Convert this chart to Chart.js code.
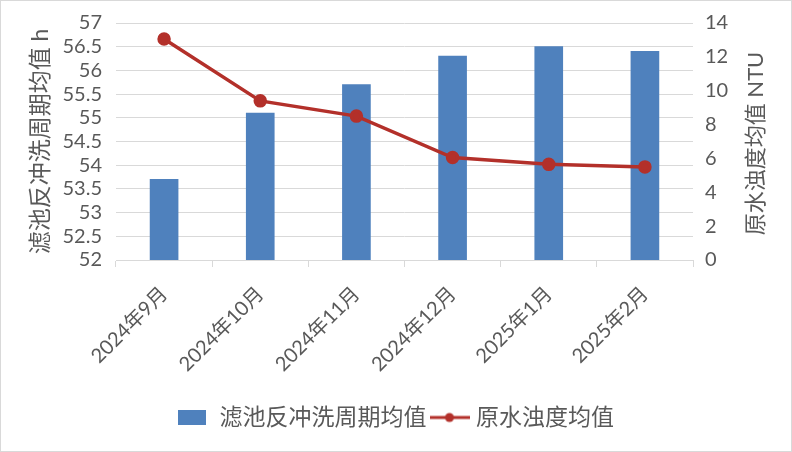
<!DOCTYPE html>
<html lang="zh-cn">
<head>
<meta charset="UTF-8" />
<title>滤池反冲洗周期与原水浊度</title>
<script src="https://cdn.jsdelivr.net/npm/chart.js"></script>
<style>
  body { margin: 0; background: #fff; }
  .caixa { width: 792px; height: 452px; box-sizing: border-box; border: 1px solid #d9d9d9; }
  canvas { display: block; }
</style>
</head>
<body>
<div class="caixa">
  <canvas id="myCanvas" width="790" height="450"></canvas>
</div>
<script>
  const meses = ["2024年9月", "2024年10月", "2024年11月", "2024年12月", "2025年1月", "2025年2月"];
  const cicloMedio = [53.7, 55.1, 55.7, 56.3, 56.5, 56.4];
  const turbidezMedia = [13.05, 9.4, 8.5, 6.05, 5.65, 5.5];
  const ticksEsq = [52, 52.5, 53, 53.5, 54, 54.5, 55, 55.5, 56, 56.5, 57];
  const ticksDir = [0, 2, 4, 6, 8, 10, 12, 14];

  const fonte = 'Lato, "Noto Sans CJK SC", sans-serif';
  const cinza = "#595959";
  const azul = "#4f81bd";
  const vermelho = "#b3302a";

  // amostras da legenda
  const amostraBarra = document.createElement("canvas");
  amostraBarra.width = 30; amostraBarra.height = 15;
  let c = amostraBarra.getContext("2d");
  c.fillStyle = azul; c.fillRect(0, 0, 28, 15);

  const amostraLinha = document.createElement("canvas");
  amostraLinha.width = 40; amostraLinha.height = 14;
  c = amostraLinha.getContext("2d");
  c.strokeStyle = vermelho; c.lineWidth = 3;
  c.beginPath(); c.moveTo(0, 7); c.lineTo(40, 7); c.stroke();
  c.fillStyle = vermelho;
  c.beginPath(); c.arc(20, 7, 4.5, 0, Math.PI * 2); c.fill();

  // titulo do eixo direito, lido de baixo para cima
  const tituloDireita = {
    id: "tituloDireita",
    afterDraw(chart) {
      const ctx = chart.ctx;
      const area = chart.chartArea;
      ctx.save();
      ctx.translate(755, (area.top + area.bottom) / 2 + 2);
      ctx.rotate(-Math.PI / 2);
      ctx.font = "22px " + fonte;
      ctx.fillStyle = cinza;
      ctx.textAlign = "center";
      ctx.textBaseline = "middle";
      ctx.fillText("原水浊度均值 NTU", 0, 0);
      ctx.restore();
    }
  };

  const config = {
    data: {
      labels: meses,
      datasets: [
        {
          type: "line",
          label: "原水浊度均值",
          data: turbidezMedia,
          yAxisID: "yDir",
          borderColor: vermelho,
          backgroundColor: vermelho,
          borderWidth: 3.5,
          pointRadius: 5,
          pointHoverRadius: 5,
          tension: 0,
          order: 0
        },
        {
          type: "bar",
          label: "滤池反冲洗周期均值",
          data: cicloMedio,
          yAxisID: "yEsq",
          backgroundColor: azul,
          barThickness: 28,
          order: 1
        }
      ]
    },
    options: {
      responsive: false,
      animation: false,
      layout: { padding: { top: 22, bottom: 12, left: 0, right: 0 } },
      scales: {
        x: {
          offset: true,
          grid: { drawOnChartArea: false, drawTicks: true, tickLength: 7, color: "#d9d9d9", offset: true },
          border: { color: "#d9d9d9" },
          ticks: { color: cinza, font: { family: fonte, size: 20 }, maxRotation: 45, minRotation: 45, padding: 15 },
          afterFit(s) { s.height = 138; }
        },
        yEsq: {
          position: "left",
          min: 52, max: 57,
          afterBuildTicks(s) { s.ticks = ticksEsq.map(v => ({ value: v })); },
          grid: { color: "#d9d9d9", drawTicks: false },
          border: { display: false },
          ticks: { color: cinza, font: { family: fonte, size: 20 }, padding: 14, autoSkip: false, callback: v => String(v) },
          title: { display: true, text: "滤池反冲洗周期均值 h", color: cinza, font: { family: fonte, size: 23 }, padding: { top: 26, bottom: 0 } },
          afterFit(s) { s.width = 115; s.paddingTop = 0; s.paddingBottom = 0; }
        },
        yDir: {
          position: "right",
          min: 0, max: 14,
          afterBuildTicks(s) { s.ticks = ticksDir.map(v => ({ value: v })); },
          grid: { drawOnChartArea: false, drawTicks: false },
          border: { display: false },
          ticks: { color: cinza, font: { family: fonte, size: 20 }, padding: 12, autoSkip: false },
          afterFit(s) { s.width = 98; s.paddingTop = 0; s.paddingBottom = 0; }
        }
      },
      plugins: {
        legend: {
          display: true,
          position: "bottom",
          reverse: true,
          labels: {
            color: cinza,
            font: { family: fonte, size: 23 },
            usePointStyle: true,
            pointStyleWidth: 30,
            padding: 8,
            generateLabels(chart) {
              const itens = Chart.defaults.plugins.legend.labels.generateLabels(chart);
              itens.forEach(it => {
                it.pointStyle = it.datasetIndex === 1 ? amostraBarra : amostraLinha;
              });
              return itens;
            }
          }
        },
        tooltip: { enabled: false }
      }
    },
    plugins: [tituloDireita]
  };

  new Chart(document.getElementById("myCanvas"), config);
</script>
</body>
</html>
